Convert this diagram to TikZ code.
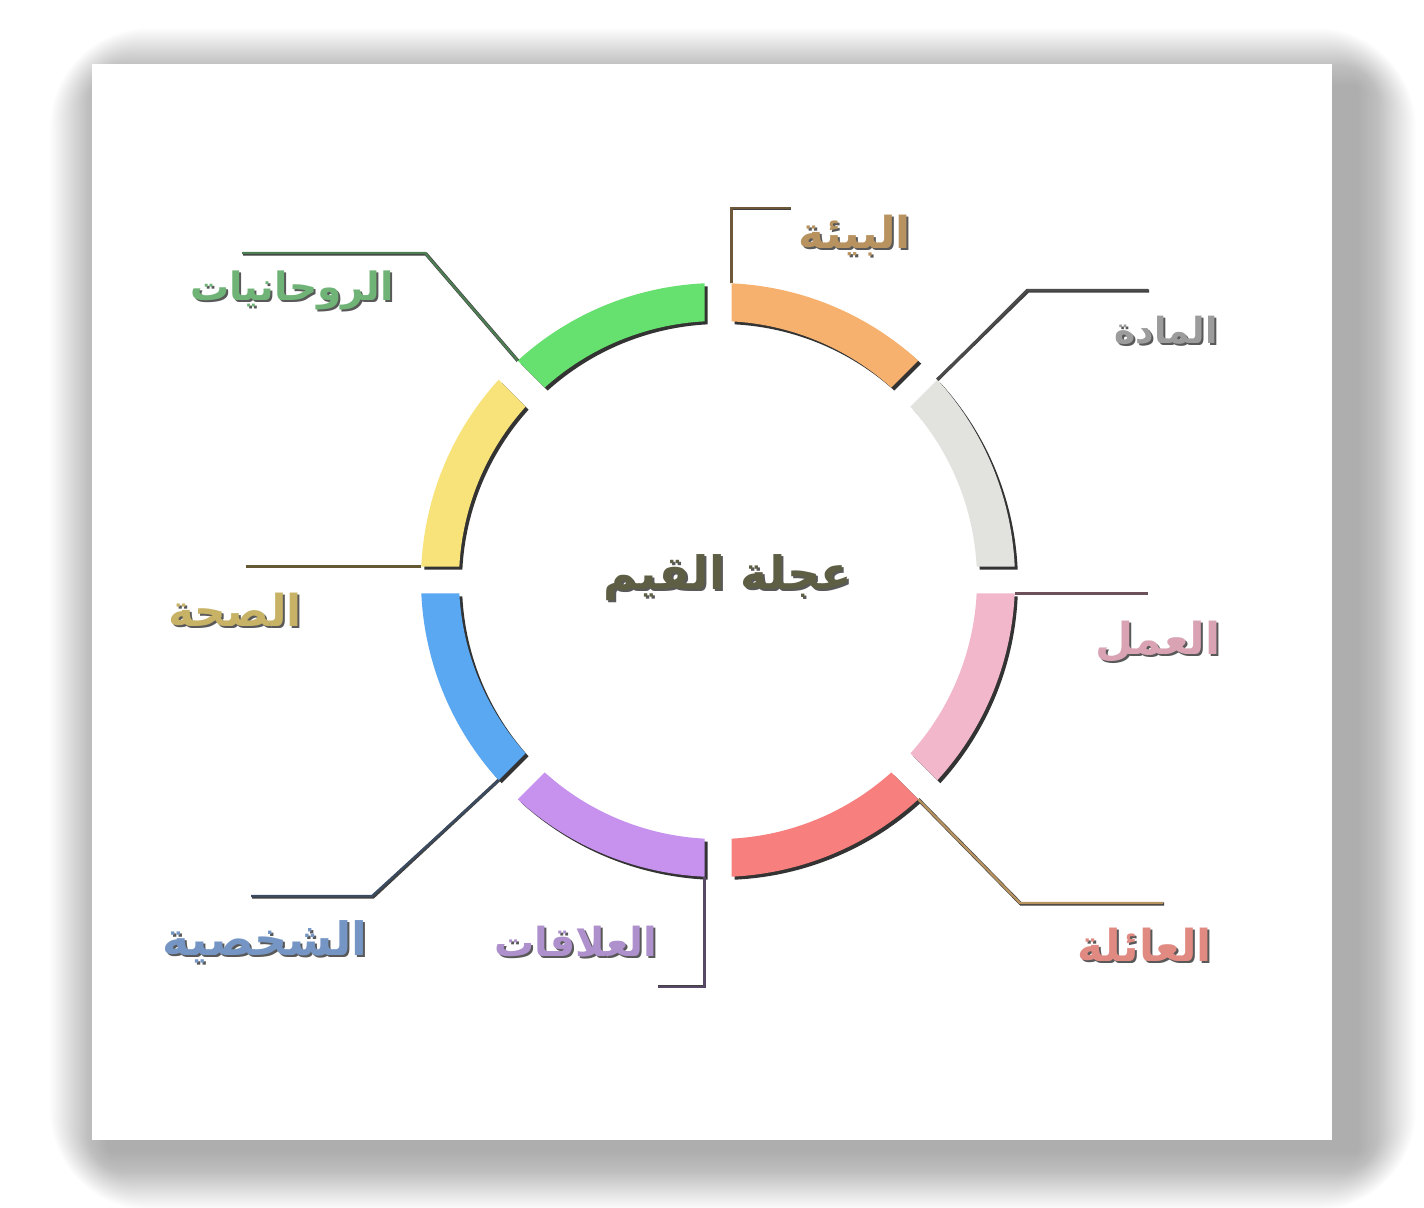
\documentclass[tikz,border=0pt]{standalone}
\usepackage{fontspec}
\newfontfamily\arabicfont[Script=Arabic]{DejaVu Sans}
\TeXXeTstate=1
\usetikzlibrary{calc}

\definecolor{segorange}{HTML}{F7B16E}
\definecolor{seggray}{HTML}{E2E2DE}
\definecolor{segpink}{HTML}{F3B7CB}
\definecolor{segred}{HTML}{F7807E}
\definecolor{segpurple}{HTML}{C692EE}
\definecolor{segblue}{HTML}{5AA8F2}
\definecolor{segyellow}{HTML}{F7E37A}
\definecolor{seggreen}{HTML}{66E06E}

\definecolor{txtbrown}{HTML}{B8935F}
\definecolor{txtgray}{HTML}{9C9C9C}
\definecolor{txtpink}{HTML}{D9A3B4}
\definecolor{txtred}{HTML}{E08A82}
\definecolor{txtpurple}{HTML}{AE90CC}
\definecolor{txtblue}{HTML}{7596C4}
\definecolor{txtkhaki}{HTML}{C7B266}
\definecolor{txtgreen}{HTML}{6FB476}
\definecolor{txtolive}{HTML}{5E5E44}

\newcommand{\artxt}[1]{\arabicfont\bfseries\beginR #1\endR}
% ring piece between two angles, gaps of constant width
\newcommand{\segpath}[2]{(#1+2.605:297) arc[start angle=#1+2.605, end angle=#2-2.605, radius=297]
  -- (#2-2.988:259) arc[start angle=#2-2.988, end angle=#1+2.988, radius=259] -- cycle}
\newcommand{\leaderline}[2]{\draw[leadshadow] #2; \draw[leader=#1] #2;}
\newcommand{\valuelabel}[5][22]{\node[lblshadow, font=\fontsize{#1}{#1}\selectfont] (#2-s) at ($(#3)+(2,-2)$) {\artxt{#5}};
  \node[lbl=#4, font=\fontsize{#1}{#1}\selectfont] (#2) at (#3) {\artxt{#5}};}

\tikzset{
  leader/.style={draw=#1, line width=1.1pt, line join=miter},
  leadshadow/.style={draw=black!75, line width=1.7pt, line join=miter, shift={(1,-1)}},
  lbl/.style={text=#1, inner sep=0pt},
  lblshadow/.style={text=black!65, inner sep=0pt},
  centre/.style={font=\arabicfont\bfseries\fontsize{23}{23}\selectfont, inner sep=0pt},
}

\begin{document}
\begin{tikzpicture}[x=0.5pt, y=0.5pt]
  \useasboundingbox (0,0) rectangle (1424,-1208);

  % card with soft shadow
  \foreach \k in {0,...,48}
    \fill[black, opacity=0.0085, rounded corners=50-\k]
      (50+1.2*\k,-28-1.2*\k) rectangle (1416-1.2*\k,-1210+1.2*\k);
  \fill[white] (92,-64) rectangle (1332,-1140);

  % the wheel
  \begin{scope}[shift={(718,-580)}]
    \foreach \a/\b/\c/\n in {45/90/segorange/env, 0/45/seggray/mat, -45/0/segpink/wrk,
        -90/-45/segred/fam, -135/-90/segpurple/rel, -180/-135/segblue/per,
        135/180/segyellow/hea, 90/135/seggreen/spi} {
      \fill[black!80, shift={(3,-3)}] \segpath{\a}{\b};
      \fill[\c] \segpath{\a}{\b};
      \coordinate (\n) at (\b-2.605:297);
    }
  \end{scope}

  % leaders
  \leaderline{txtbrown!60!black}{(env) -- ++(0,75) -- ++(59,0)}
  \leaderline{black!70}{(mat) -- (1027,-290) -- (1148,-290)}
  \leaderline{txtpink!50!black}{(wrk) -- ++(133,0)}
  \leaderline{txtbrown}{(fam) -- (1020,-903) -- (1163,-903)}
  \leaderline{txtpurple!50!black}{(rel) -- ++(0,-110) -- ++(-47,0)}
  \leaderline{txtblue!50!black}{(per) -- (372,-896) -- (251,-896)}
  \leaderline{txtkhaki!50!black}{(hea) -- ++(-175,0)}
  \leaderline{txtgreen!70!black}{(spi) -- (425,-253) -- (242,-253)}

  % labels
  \valuelabel{env-t}{855,-236}{txtbrown}{البيئة}
  \valuelabel[18]{mat-t}{1166,-330}{txtgray}{المادة}
  \valuelabel{wrk-t}{1158,-642}{txtpink}{العمل}
  \valuelabel{fam-t}{1145,-945}{txtred}{العائلة}
  \valuelabel[20]{rel-t}{576,-942}{txtpurple}{العلاقات}
  \valuelabel[23]{per-t}{265,-942}{txtblue}{الشخصية}
  \valuelabel{hea-t}{235,-610}{txtkhaki}{الصحة}
  \valuelabel[19.5]{spi-t}{292,-290}{txtgreen}{الروحانيات}
  \node[centre, text=black!65] (wheel-s) at (730,-580) {\beginR عجلة القيم\endR};
  \node[centre, text=txtolive] (wheel) at (728,-578) {\beginR عجلة القيم\endR};
\end{tikzpicture}
\end{document}
